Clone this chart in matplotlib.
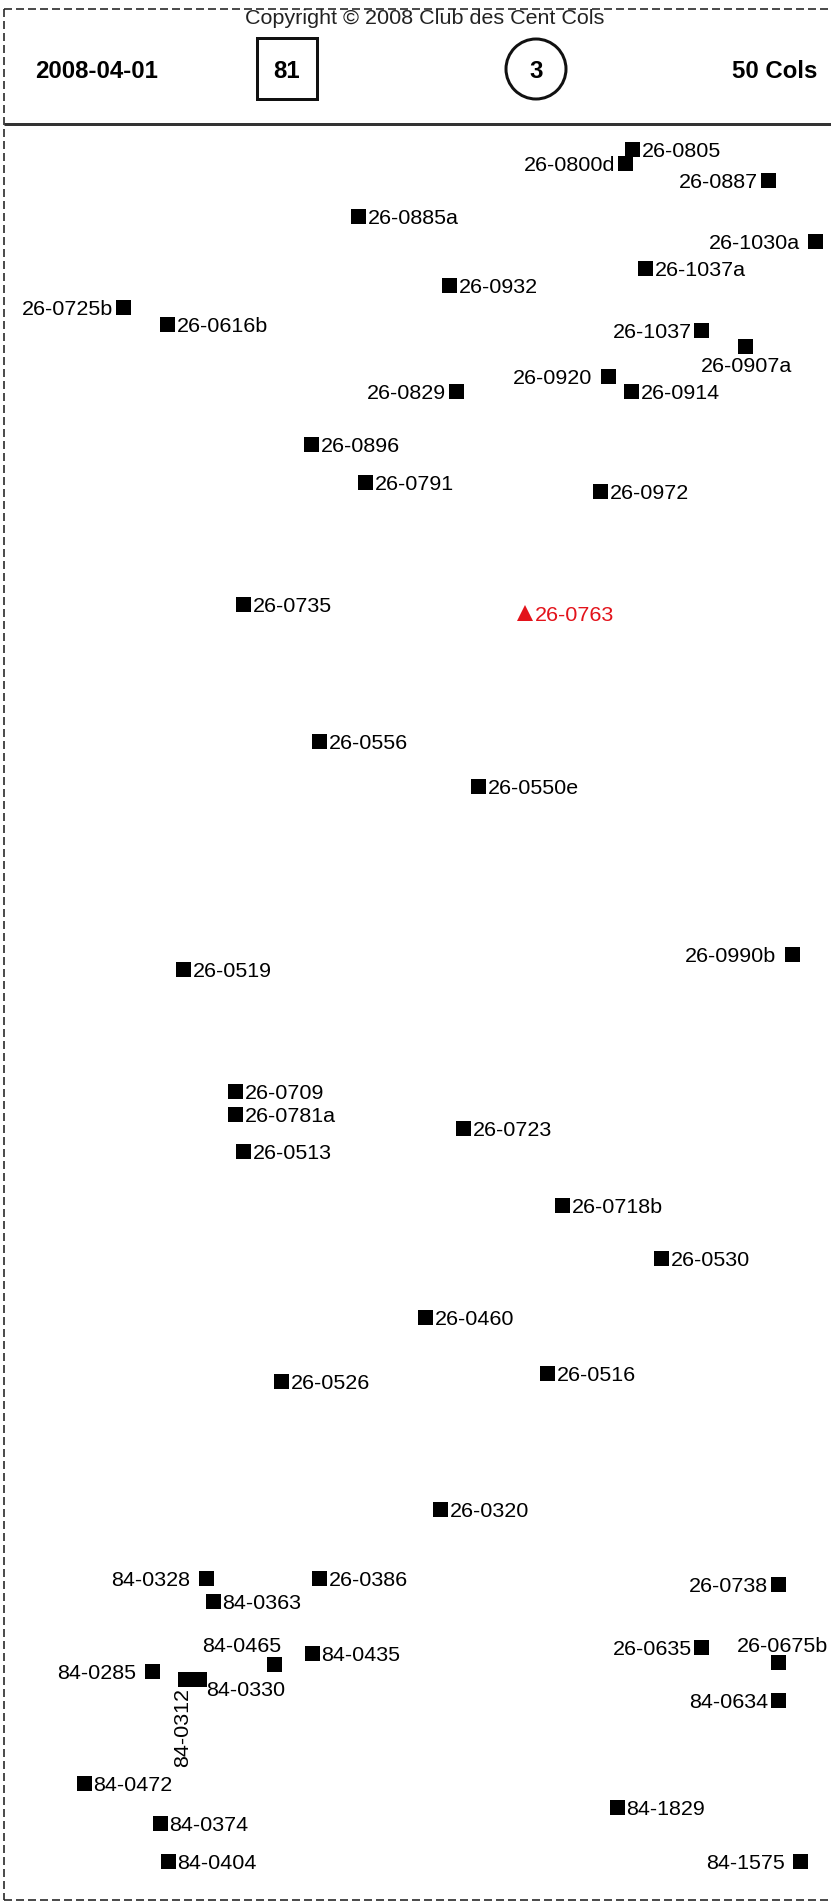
"""Map sheet of the cols climbed: header band plus labelled col positions."""

import matplotlib.pyplot as plt
from matplotlib.patches import Circle, Rectangle

# Header values
sheet_date = "2008-04-01"
sheet_number = "81"
new_cols = "3"
col_total = "50 Cols"
copyright_text = "Copyright \u00a9 2008 Club des Cent Cols"

# Col codes and their map positions (sheet pixels, y down)
col_ids = [
    "26-0805", "26-0800d", "26-0887", "26-0885a", "26-1030a", "26-1037a",
    "26-0932", "26-0725b", "26-0616b", "26-1037", "26-0907a", "26-0920",
    "26-0914", "26-0829", "26-0896", "26-0791", "26-0972", "26-0735",
    "26-0763", "26-0556", "26-0550e", "26-0990b", "26-0519", "26-0709",
    "26-0781a", "26-0513", "26-0723", "26-0718b", "26-0530", "26-0460",
    "26-0526", "26-0516", "26-0320", "84-0328", "84-0363", "26-0386",
    "26-0738", "84-0465", "84-0435", "26-0635", "26-0675b", "84-0285",
    "84-0330", "84-0312", "84-0634", "84-0472", "84-1829", "84-0374",
    "84-0404", "84-1575",
]
col_x = [
    632, 625, 768, 358, 815, 645,
    449, 123, 167, 701, 745, 608,
    631, 456, 311, 365, 600, 243,
    525, 319, 478, 792, 183, 235,
    235, 243, 463, 562, 661, 425,
    281, 547, 440, 206, 213, 319,
    778, 274, 312, 701, 778, 152,
    199, 185, 778, 84, 617, 160,
    168, 800,
]
col_y = [
    149, 163, 180, 216, 241, 268,
    285, 307, 324, 330, 346, 376,
    391, 391, 444, 482, 491, 604,
    613, 741, 786, 954, 969, 1091,
    1114, 1151, 1128, 1205, 1258, 1317,
    1381, 1373, 1509, 1578, 1601, 1578,
    1584, 1664, 1653, 1647, 1662, 1671,
    1679, 1679, 1700, 1783, 1807, 1823,
    1861, 1861,
]
highlight_col = "26-0763"

# Where each label sits relative to its marker
# (r right, l left, L left with a space, t top, b below, br below right, v vertical)
label_side = [
    "r", "l", "l", "r", "L", "r",
    "r", "l", "r", "l", "b", "L",
    "r", "l", "r", "r", "r", "r",
    "r", "r", "r", "L", "r", "r",
    "r", "r", "r", "r", "r", "r",
    "r", "r", "r", "L", "r", "r",
    "l", "t", "r", "l", "t", "L",
    "br", "v", "l", "r", "r", "r",
    "r", "L",
]

W, H = 831, 1903
PX = 0.72  # points per pixel at 100 dpi
RED = "#e3131b"

fig = plt.figure(figsize=(W / 100, H / 100), dpi=100)
ax = fig.add_axes([0, 0, 1, 1])
ax.set_xlim(0, W)
ax.set_ylim(H, 0)
ax.axis("off")

font = "Liberation Sans"
label_size = 21.5 * PX
head_size = 24 * PX

# dashed frame and header separator
dash = dict(color="#222222", lw=1.6 * PX, dashes=(5, 2.5))
ax.plot([4, W], [9, 9], **dash)
ax.plot([4, 4], [9, H - 3], **dash)
ax.plot([4, W], [H - 3, H - 3], **dash)
ax.plot([4, W], [124, 124], color="#333333", lw=3 * PX, solid_capstyle="butt")

ax.text(425, 24, copyright_text, family=font, fontsize=label_size,
        ha="center", va="baseline", color="#222222")

# header band
ax.text(35, 78.5, sheet_date, family=font, fontsize=head_size,
        fontweight="bold", ha="left", va="baseline")
ax.add_patch(Rectangle((257, 38), 60, 61, fill=False, lw=3 * PX,
                       edgecolor="#111111"))
ax.text(287, 78.5, sheet_number, family=font, fontsize=head_size,
        fontweight="bold", ha="center", va="baseline")
ax.add_patch(Circle((536, 69), 30, fill=False, lw=3 * PX,
                    edgecolor="#111111"))
ax.text(536, 78.5, new_cols, family=font, fontsize=head_size,
        fontweight="bold", ha="center", va="baseline")
ax.text(817, 78.5, col_total, family=font, fontsize=head_size,
        fontweight="bold", ha="right", va="baseline")

# markers
sq_x = [x for x, c in zip(col_x, col_ids) if c != highlight_col]
sq_y = [y for y, c in zip(col_y, col_ids) if c != highlight_col]
ax.plot(sq_x, sq_y, "s", color="black", ms=15 * PX, mew=0, ls="none")
hi = col_ids.index(highlight_col)
ax.plot([col_x[hi]], [col_y[hi]], "^", color=RED, ms=15.5 * PX, mew=0)

# labels
half = 7.5
rise = 7.7  # half the digit height, baseline below the marker centre
for cid, x, y, side in zip(col_ids, col_x, col_y, label_side):
    color = RED if cid == highlight_col else "black"
    kw = dict(family=font, fontsize=label_size, color=color, va="baseline")
    if side == "r":
        ax.text(x + half + 2, y + rise, cid, ha="left", **kw)
    elif side == "l":
        ax.text(x - half - 2, y + rise, cid, ha="right", **kw)
    elif side == "L":
        ax.text(x - half - 8, y + rise, cid, ha="right", **kw)
    elif side == "b":
        ax.text(x + 1, y + half + 18, cid, ha="center", **kw)
    elif side == "t":
        if x < W / 2:
            ax.text(x + half, y - half - 4, cid, ha="right", **kw)
        else:
            ax.text(x + 5, y - half - 3, cid, ha="center", **kw)
    elif side == "br":
        ax.text(x + half, y + 17, cid, ha="left", **kw)
    elif side == "v":
        ax.text(x + 3, y + 9, cid, ha="right", rotation=90,
                rotation_mode="anchor", **kw)

fig.savefig("out.png", dpi=100, facecolor="white")
